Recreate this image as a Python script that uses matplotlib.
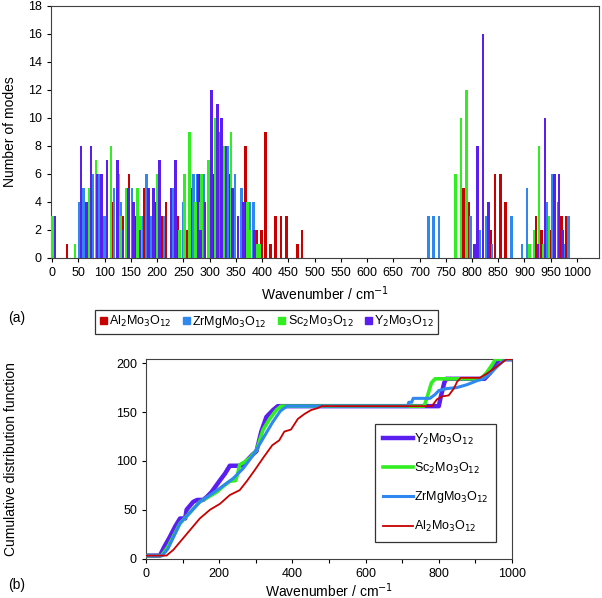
import numpy as np
import matplotlib
matplotlib.use("Agg")
import matplotlib.pyplot as plt
from matplotlib.patches import Patch

plt.rcParams['font.family'] = ['Liberation Sans', 'DejaVu Sans']

# colores de cada compuesto
c_al = "#C80000"
c_zr = "#2F88F0"
c_sc = "#30EE20"
c_y = "#5A1EF0"

lab_al = r"Al$_2$Mo$_3$O$_{12}$"
lab_zr = r"ZrMgMo$_3$O$_{12}$"
lab_sc = r"Sc$_2$Mo$_3$O$_{12}$"
lab_y = r"Y$_2$Mo$_3$O$_{12}$"

# (a) histograma: numero de modos por frecuencia (cm-1)
al_w = [0, 28, 117, 135, 146, 159, 176, 197, 209, 217, 240, 257, 266, 283, 308, 338, 346, 368, 377,
        390, 399, 407, 416, 426, 436, 446, 467, 476,
        784, 794, 805, 835, 844, 854, 864, 922, 933, 949, 970, 980]
al_n = [3, 1, 4, 3, 6, 3, 5, 4, 3, 4, 3, 2, 5, 6, 6, 6, 4, 8, 2,
        2, 2, 9, 1, 3, 3, 3, 1, 2,
        5, 4, 1, 2, 6, 6, 4, 3, 2, 2, 3, 3]

zr_w = [0, 51, 60, 69, 77, 88, 99, 118, 131, 142, 152, 171, 180, 187, 213, 229, 249, 269, 277, 289,
        301, 318, 334, 348, 361, 377, 383,
        717, 727, 737, 797, 815, 827, 838, 875, 895, 905, 942, 953, 964, 975, 984]
zr_n = [3, 4, 5, 3, 6, 6, 3, 5, 4, 5, 5, 3, 6, 3, 3, 5, 4, 6, 6, 6,
        6, 9, 8, 6, 5, 4, 4,
        3, 3, 3, 3, 2, 3, 1, 3, 1, 5, 4, 6, 4, 1, 3]

sc_w = [0, 43, 65, 70, 83, 112, 127, 131, 142, 155, 162, 168, 200, 243, 252, 262, 273, 280, 285,
        298, 311, 326, 341, 372, 377, 390, 395,
        769, 779, 789, 910, 918, 928, 936, 947, 957]
sc_n = [3, 1, 4, 5, 7, 8, 6, 3, 5, 4, 5, 3, 6, 2, 6, 9, 4, 4, 6,
        7, 10, 8, 9, 4, 2, 1, 1,
        6, 10, 12, 1, 2, 8, 1, 3, 4]

y_w = [5, 55, 65, 74, 85, 94, 104, 124, 135, 145, 155, 167, 183, 193, 204, 226, 235, 278, 283, 291,
       303, 315, 323, 331, 344, 354, 364, 386,
       805, 810, 821, 832, 926, 939, 957, 966, 972]
y_n = [3, 8, 4, 8, 6, 6, 7, 7, 2, 5, 4, 2, 5, 5, 7, 5, 7, 6, 2, 4,
       12, 11, 10, 8, 5, 3, 4, 2,
       1, 8, 16, 4, 1, 10, 6, 6, 2]

# (b) funcion de distribucion acumulada
y_cx = [0, 38, 50, 65, 80, 93, 107, 111, 129, 140, 156, 166, 179, 202, 216, 229, 256, 266, 275, 290,
        302, 315, 329, 347, 360, 800, 805, 815, 820, 925, 940, 955, 965, 1000]
y_cy = [3, 3, 12, 22, 33, 41, 41, 50, 58, 60, 60, 63, 68, 80, 87, 95, 95, 96, 100, 106,
        110, 130, 145, 152, 156, 156, 165, 180, 184, 184, 190, 198, 204, 204]

sc_cx = [0, 43, 60, 93, 120, 147, 170, 193, 211, 229, 245, 250, 256, 270, 284, 302, 320, 338, 356,
         369, 760, 768, 780, 790, 915, 930, 945, 955, 1000]
sc_cy = [3, 3, 12, 36, 47, 58, 63, 68, 74, 79, 80, 86, 96, 99, 103, 111, 132, 143, 152,
         156, 156, 165, 180, 184, 184, 190, 198, 204, 204]

zr_cx = [0, 45, 60, 93, 120, 147, 175, 202, 238, 265, 293, 320, 345, 367, 385, 715, 718, 726, 730,
         776, 790, 800, 822, 849, 877, 904, 922, 940, 958, 981, 1000]
zr_cy = [3, 3, 10, 36, 47, 58, 65, 72, 82, 92, 106, 123, 139, 151, 156, 156, 160, 160, 164,
         164, 168, 172, 174, 175, 178, 182, 184, 189, 196, 204, 204]

al_cx = [0, 56, 75, 93, 120, 147, 175, 202, 229, 256, 275, 298, 320, 345, 364, 378, 396, 415, 433,
         451, 469, 480, 781, 795, 809, 827, 841, 850, 860, 912, 930, 949, 967, 985, 1000]
al_cy = [3, 3, 9, 17, 29, 41, 50, 56, 65, 70, 79, 91, 103, 116, 121, 130, 132, 143, 148,
         152, 154, 156, 156, 163, 166, 167, 174, 181, 185, 185, 189, 194, 199, 204, 204]

fig = plt.figure(figsize=(6.02, 5.98), dpi=100)

# ---- panel (a)
ax1 = fig.add_axes([0.0842, 0.5686, 0.9108, 0.4214])
ancho = 5
ax1.bar(al_w, al_n, width=ancho, color=c_al, zorder=2)
ax1.bar(zr_w, zr_n, width=ancho, color=c_zr, zorder=3)
ax1.bar(sc_w, sc_n, width=ancho, color=c_sc, zorder=4)
ax1.bar(y_w, y_n, width=ancho, color=c_y, zorder=5)
ax1.set_xlim(-3, 1042)
ax1.set_ylim(0, 18)
ax1.set_xticks(np.arange(0, 1001, 50))
ax1.set_yticks(np.arange(0, 19, 2))
ax1.tick_params(labelsize=9, direction="out", length=3, width=0.8)
ax1.set_ylabel("Number of modes", fontsize=10)
ax1.yaxis.set_label_coords(-0.062, 0.5)
ax1.set_xlabel("Wavenumber / cm$^{-1}$", fontsize=10, labelpad=4)
for s in ax1.spines.values():
    s.set_color("#404040")

fig.text(0.013, 0.468, "(a)", fontsize=10, va="center")

handles = [Patch(color=c_al, label=lab_al), Patch(color=c_zr, label=lab_zr),
           Patch(color=c_sc, label=lab_sc), Patch(color=c_y, label=lab_y)]
leg1 = fig.legend(handles=handles, ncol=4, loc="center", bbox_to_anchor=(0.4435, 0.4615),
                  fontsize=9, frameon=True, fancybox=False, handlelength=0.55, handleheight=0.55,
                  handletextpad=0.2, columnspacing=0.9, borderpad=0.35)
leg1.get_frame().set_edgecolor("black")
leg1.get_frame().set_linewidth(0.9)

# ---- panel (b)
ax2 = fig.add_axes([0.2425, 0.066, 0.608, 0.3332])
ax2.plot(y_cx, y_cy, color=c_y, lw=3.2, label=lab_y, zorder=2)
ax2.plot(sc_cx, sc_cy, color=c_sc, lw=2.6, label=lab_sc, zorder=3)
ax2.plot(zr_cx, zr_cy, color=c_zr, lw=2.2, label=lab_zr, zorder=4)
ax2.plot(al_cx, al_cy, color=c_al, lw=1.3, label=lab_al, zorder=5)
ax2.set_xlim(0, 1000)
ax2.set_ylim(0, 204)
ax2.set_xticks(np.arange(0, 1001, 200))
ax2.set_xticks(np.arange(0, 1001, 100), minor=True)
ax2.set_yticks(np.arange(0, 201, 50))
ax2.tick_params(which="both", labelsize=9, direction="out", length=3, width=0.8)
ax2.set_ylabel("Cumulative distribution function", fontsize=10)
ax2.yaxis.set_label_coords(-0.35, 0.5)
ax2.set_xlabel("Wavenumber / cm$^{-1}$", fontsize=10, labelpad=1)
for s in ax2.spines.values():
    s.set_color("#404040")

leg2 = ax2.legend(loc="lower right", bbox_to_anchor=(0.9735, 0.053), fontsize=9,
                  frameon=True, fancybox=False, handlelength=2.4, labelspacing=1.1,
                  handletextpad=0.1, borderpad=0.6)
leg2.get_frame().set_edgecolor("black")
leg2.get_frame().set_linewidth(0.9)

fig.text(0.013, 0.022, "(b)", fontsize=10, va="center")

fig.savefig("out.png", dpi=100)
